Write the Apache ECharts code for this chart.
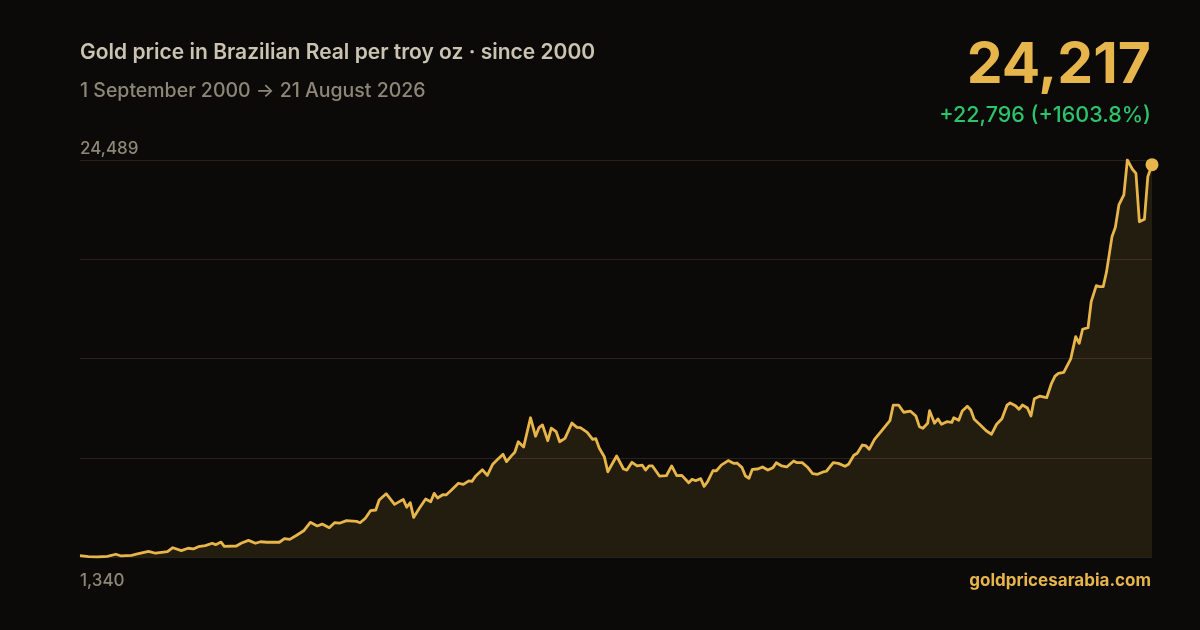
<!DOCTYPE html>
<html>
<head>
<meta charset="utf-8">
<script src="https://cdn.jsdelivr.net/npm/echarts@6/dist/echarts.min.js"></script>
<style>
html,body{margin:0;padding:0;background:#0b0a08;}
#c{width:1200px;height:630px;}
</style>
</head>
<body>
<div id="c"></div>
<script>
const dates = ['2000-09-01','2000-11-15','2001-02-01','2001-05-01','2001-07-15','2001-09-01','2001-12-01','2002-02-01','2002-05-01','2002-07-01',
'2002-10-15','2002-12-01','2003-02-15','2003-04-15','2003-06-01','2003-07-15','2003-09-15','2003-11-15','2003-12-15','2004-02-01',
'2004-03-01','2004-06-15','2004-08-01','2004-10-01','2004-12-01','2005-01-15','2005-03-15','2005-06-01','2005-07-01','2005-08-15',
'2005-10-01','2005-12-01','2006-02-01','2006-02-15','2006-04-01','2006-06-01','2006-07-15','2006-09-15','2006-11-01','2006-12-15',
'2007-02-15','2007-05-15','2007-06-15','2007-08-01','2007-09-15','2007-11-01','2007-12-01','2008-02-01','2008-04-15','2008-07-01',
'2008-08-01','2008-09-01','2008-10-01','2008-11-15','2009-01-15','2009-03-01','2009-04-01','2009-05-01','2009-06-15','2009-07-15',
'2009-09-01','2009-11-01','2009-12-15','2010-02-01','2010-03-01','2010-04-01','2010-06-01','2010-07-15','2010-09-01','2010-10-15',
'2010-12-01','2011-01-01','2011-02-15','2011-03-15','2011-04-15','2011-06-01','2011-08-01','2011-09-15','2011-10-15','2011-11-15',
'2012-01-01','2012-02-01','2012-03-15','2012-04-15','2012-06-01','2012-08-01','2012-09-15','2012-10-15','2012-12-15','2013-02-01',
'2013-03-01','2013-04-01','2013-05-15','2013-06-15','2013-09-01','2013-11-01','2013-12-01','2014-01-15','2014-03-01','2014-04-15',
'2014-05-15','2014-06-15','2014-07-15','2014-09-15','2014-11-15','2015-01-01','2015-02-15','2015-04-01','2015-06-01','2015-07-01',
'2015-08-01','2015-09-15','2015-10-15','2015-11-15','2016-01-01','2016-02-01','2016-03-15','2016-05-15','2016-07-01','2016-08-01',
'2016-09-15','2016-10-15','2016-11-15','2016-12-15','2017-02-01','2017-03-15','2017-05-01','2017-06-15','2017-07-15','2017-09-01',
'2017-10-15','2017-12-15','2018-01-15','2018-03-01','2018-04-15','2018-06-01','2018-07-15','2018-09-01','2018-10-01','2018-12-01',
'2019-01-15','2019-03-15','2019-04-15','2019-06-01','2019-07-01','2019-08-15','2019-09-15','2019-10-15','2019-12-01','2019-12-15',
'2020-02-01','2020-04-15','2020-05-15','2020-07-01','2020-08-15','2020-10-15','2020-12-01','2021-01-01','2021-02-01','2021-03-15',
'2021-04-01','2021-05-15','2021-06-15','2021-07-15','2021-09-01','2021-10-15','2021-11-01','2021-12-15','2022-01-15','2022-03-01',
'2022-04-01','2022-05-01','2022-06-15','2022-08-15','2022-10-01','2022-11-15','2023-01-01','2023-01-15','2023-02-15','2023-03-15',
'2023-05-01','2023-06-01','2023-07-01','2023-08-15','2023-09-15','2023-10-15','2023-12-01','2024-02-01','2024-03-15','2024-04-15',
'2024-05-15','2024-07-01','2024-08-01','2024-09-01','2024-10-15','2024-11-15','2024-12-15','2025-02-01','2025-03-01','2025-04-15',
'2025-05-15','2025-06-15','2025-07-15','2025-09-01','2025-10-01','2025-11-01','2025-12-15','2026-01-15','2026-03-01','2026-04-01',
'2026-05-01','2026-06-15','2026-07-15','2026-08-21'];
const prices = [1421.35,1360,1340,1380,1500,1400,1440,1530,1670,1560,
1650,1880,1710,1850,1810,1940,2000,2140,2060,2210,
1960,1980,2160,2310,2140,2230,2200,2210,2200,2410,
2370,2610,2870,2970,3360,3150,3260,3050,3340,3310,
3460,3420,3340,3600,4040,4080,4660,5030,4410,4700,
4240,4510,3650,4120,4720,4560,5050,4780,4970,4960,
5250,5640,5570,5780,5750,6050,6430,6100,6750,7040,
7330,6900,7250,7450,8060,7750,9460,8380,8880,9040,
8120,8850,8650,8060,8260,9150,8900,8880,8610,8200,
8240,7680,7190,6310,7230,6470,6410,6860,6650,6700,
6410,6650,6650,6060,6080,6650,6080,6100,5670,5870,
5790,5910,5460,5730,6370,6370,6700,6960,6800,6820,
6550,6060,5930,6450,6470,6590,6410,6550,6840,6650,
6590,6940,6840,6840,6590,6200,6160,6300,6340,6840,
6800,6630,6750,7270,7390,7870,7830,7620,8200,8120,
8700,9290,10200,10200,9780,9840,9560,8940,8850,9140,
9870,9140,9390,9080,9230,9190,9460,9310,9850,10130,
9910,9370,9100,8700,8500,9080,9400,9460,10190,10320,
10160,9950,10200,10030,9560,10570,10720,10630,11470,11890,
12050,12110,12500,12890,14190,13800,14620,14710,16230,17160,
17100,17100,17980,20020,20570,21870,22450,24489,23950,23710,
20890,21030,23520,24217];
const axisMin = 1340;
const axisMax = 24489;
const lastValue = prices[prices.length - 1];
const change = lastValue - prices[0];
const changePct = change / prices[0] * 100;

const fmt = v => Math.round(v).toLocaleString('en-US');
const FONT = 'Inter, "Noto Sans", sans-serif';
const chart = echarts.init(document.getElementById('c'));
chart.setOption({
  backgroundColor: '#0b0a08',
  animation: false,
  grid: {left: 80, right: 48, top: 160, bottom: 73},
  xAxis: {
    type: 'time', min: '2000-09-01', max: '2026-08-21',
    axisLine: {show: false}, axisTick: {show: false}, axisLabel: {show: false}, splitLine: {show: false}
  },
  yAxis: {
    type: 'value', min: axisMin, max: axisMax, interval: (axisMax - axisMin) / 4,
    axisLine: {show: false}, axisTick: {show: false}, axisLabel: {show: false},
    splitLine: {show: true, lineStyle: {color: '#25221b', width: 1}}
  },
  series: [{
    type: 'line',
    data: dates.map((d, i) => [d, prices[i]]),
    symbol: 'none',
    lineStyle: {color: '#e8b54a', width: 2.8, join: 'round'},
    areaStyle: {color: 'rgba(232,181,74,0.16)', origin: 'start'},
    z: 3
  }, {
    type: 'scatter',
    data: [[dates[dates.length - 1], lastValue]],
    symbolSize: 13,
    itemStyle: {color: '#e8b54a', opacity: 1},
    z: 4
  }],
  graphic: [
    {type: 'text', left: 80, top: 42, style: {text: 'Gold price in Brazilian Real per troy oz · since 2000', fill: '#cbc3b1', font: '600 21px ' + FONT}},
    {type: 'text', left: 80, top: 81, style: {text: '1 September 2000 → 21 August 2026', fill: '#8d8777', font: '500 19.5px ' + FONT}},
    {type: 'text', left: 80, top: 140, style: {text: fmt(axisMax), fill: '#8d8777', font: '500 17px ' + FONT}},
    {type: 'text', left: 80, top: 572, style: {text: fmt(axisMin), fill: '#8d8777', font: '500 17px ' + FONT}},
    {type: 'text', right: 49, top: 37, style: {text: fmt(lastValue), fill: '#e6b54c', font: '700 57px ' + FONT}},
    {type: 'text', right: 49, top: 105, style: {text: '+' + fmt(change) + ' (+' + changePct.toFixed(1) + '%)', fill: '#2cc46a', font: '500 21.5px ' + FONT}},
    {type: 'text', right: 49, top: 572, style: {text: 'goldpricesarabia.com', fill: '#e6b54c', font: '700 17px ' + FONT}}
  ]
});
</script>
</body>
</html>
